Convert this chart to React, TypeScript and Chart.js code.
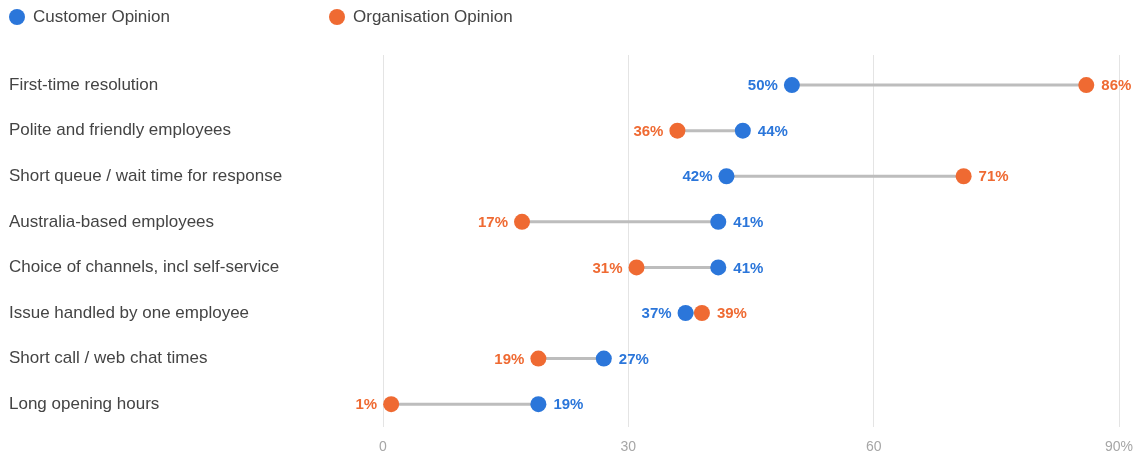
import React, { useEffect, useRef } from "react";
import { Chart, registerables } from "chart.js";

Chart.register(...registerables);

const categories = [
  "First-time resolution",
  "Polite and friendly employees",
  "Short queue / wait time for response",
  "Australia-based employees",
  "Choice of channels, incl self-service",
  "Issue handled by one employee",
  "Short call / web chat times",
  "Long opening hours",
];
const customerOpinion = [50, 44, 42, 41, 41, 37, 27, 19];
const organisationOpinion = [86, 36, 71, 17, 31, 39, 19, 1];
const xTicks = [0, 30, 60, 90];

const BLUE = "#2b76da";
const ORANGE = "#ef6a32";
const FONT = '"Liberation Sans", Arial, sans-serif';

const dumbbellPlugin = {
  id: "dumbbell",
  beforeDatasetsDraw(chart: any) {
    const a = chart.getDatasetMeta(0).data;
    const b = chart.getDatasetMeta(1).data;
    const ctx = chart.ctx;
    ctx.save();
    ctx.strokeStyle = "#bdbdbd";
    ctx.lineWidth = 3;
    for (let i = 0; i < a.length; i++) {
      ctx.beginPath();
      ctx.moveTo(a[i].x, a[i].y);
      ctx.lineTo(b[i].x, b[i].y);
      ctx.stroke();
    }
    ctx.restore();
  },
  afterDatasetsDraw(chart: any) {
    const ctx = chart.ctx;
    const metaO = chart.getDatasetMeta(0).data;
    const metaC = chart.getDatasetMeta(1).data;
    ctx.save();
    ctx.font = "bold 15px " + FONT;
    ctx.textBaseline = "middle";
    for (let i = 0; i < categories.length; i++) {
      const c = customerOpinion[i];
      const o = organisationOpinion[i];
      const items = [
        { v: c, el: metaC[i], color: BLUE, left: c < o },
        { v: o, el: metaO[i], color: ORANGE, left: o < c },
      ];
      for (const it of items) {
        ctx.fillStyle = it.color;
        if (it.left) {
          ctx.textAlign = "right";
          ctx.fillText(it.v + "%", it.el.x - 14, it.el.y + 1);
        } else {
          ctx.textAlign = "left";
          ctx.fillText(it.v + "%", it.el.x + 15, it.el.y + 1);
        }
      }
    }
    ctx.restore();
  },
};

export default function App() {
  const ref = useRef<HTMLCanvasElement>(null);
  useEffect(() => {
    if (!ref.current) return;
    Chart.defaults.font.family = FONT;
    const chart = new Chart(ref.current, {
      type: "scatter",
      data: {
        datasets: [
          {
            label: "Organisation Opinion",
            data: organisationOpinion.map((v, i) => ({ x: v, y: i })),
            backgroundColor: ORANGE,
            borderWidth: 0,
            pointRadius: 8,
            pointHoverRadius: 8,
          },
          {
            label: "Customer Opinion",
            data: customerOpinion.map((v, i) => ({ x: v, y: i })),
            backgroundColor: BLUE,
            borderWidth: 0,
            pointRadius: 8,
            pointHoverRadius: 8,
          },
        ],
      },
      options: {
        animation: false,
        responsive: false,
        maintainAspectRatio: false,
        layout: { padding: { left: 9, right: 20, top: 55, bottom: 0 } },
        plugins: { legend: { display: false }, tooltip: { enabled: false } },
        scales: {
          x: {
            type: "linear",
            min: 0,
            max: 90,
            afterBuildTicks: (axis: any) => {
              axis.ticks = xTicks.map((v) => ({ value: v }));
            },
            afterFit: (axis: any) => {
              axis.paddingLeft = 0;
              axis.paddingRight = 0;
              axis.height = 27;
            },
            ticks: {
              color: "#a6a6a6",
              font: { size: 14 },
              padding: 12,
              callback: (v: any) => (v === 90 ? "90%" : String(v)),
            },
            grid: { color: "#e4e4e4", drawTicks: false },
            border: { display: false },
          },
          y: {
            type: "linear",
            reverse: true,
            min: -0.66,
            max: 7.5,
            afterBuildTicks: (axis: any) => {
              axis.ticks = categories.map((_, i) => ({ value: i }));
            },
            afterFit: (axis: any) => {
              axis.width = 374;
              axis.paddingTop = 0;
              axis.paddingBottom = 0;
            },
            ticks: {
              crossAlign: "far",
              color: "#444444",
              font: { size: 17 },
              callback: (v: any) => categories[v] ?? "",
            },
            grid: { display: false },
            border: { display: false },
          },
        },
      },
      plugins: [dumbbellPlugin],
    } as any);
    return () => chart.destroy();
  }, []);

  const legendItem = (color: string, text: string, left: number) => (
    <div
      style={{
        position: "absolute",
        left,
        top: 7,
        display: "flex",
        alignItems: "center",
        height: 20,
        fontFamily: FONT,
        fontSize: 17,
        color: "#444",
        whiteSpace: "nowrap",
      }}
    >
      <span
        style={{
          width: 16,
          height: 16,
          borderRadius: 8,
          background: color,
          display: "inline-block",
          marginRight: 8,
        }}
      />
      {text}
    </div>
  );

  return (
    <div style={{ position: "fixed", left: 0, top: 0, width: 1139, height: 454, background: "#fff" }}>
      <canvas ref={ref} width={1139} height={454} style={{ position: "absolute", left: 0, top: 0 }} />
      {legendItem(BLUE, "Customer Opinion", 9)}
      {legendItem(ORANGE, "Organisation Opinion", 329)}
    </div>
  );
}
